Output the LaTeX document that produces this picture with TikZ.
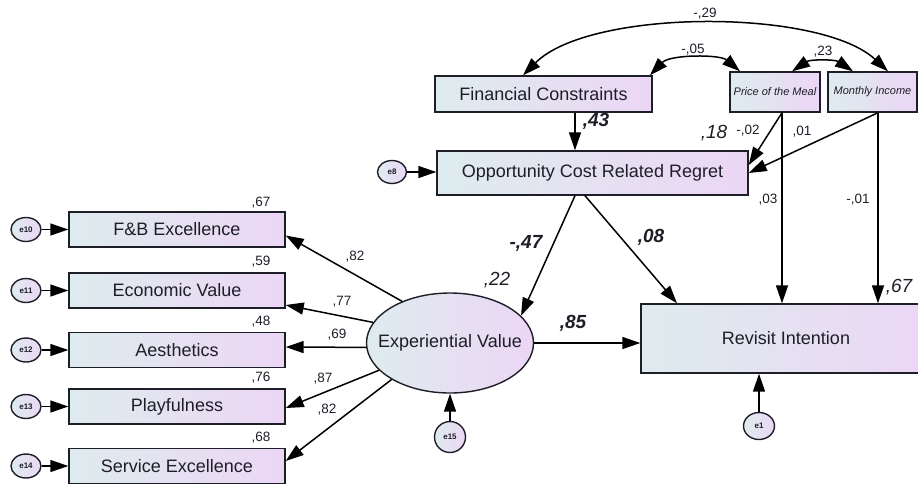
\documentclass[tikz,border=0pt]{standalone}
\usepackage{fontspec}
\setmainfont{Liberation Sans}
\usetikzlibrary{arrows.meta,shapes.geometric}
\definecolor{boxL}{RGB}{222,236,238}
\definecolor{boxR}{RGB}{236,214,245}
\definecolor{ink}{RGB}{30,30,40}
\newcommand{\fsz}[1]{\fontsize{#1}{#1}\selectfont}

\begin{document}
\begin{tikzpicture}[x=1pt,y=1pt,line width=1.5pt,
  obs/.style={rectangle,draw=ink,line width=1.4pt,left color=boxL,right color=boxR,inner sep=0pt,font=\fsz{18},text=ink},
  expbox/.style={obs,font=\fsz{11}\itshape},
  lat/.style={ellipse,draw=ink,line width=1.4pt,left color=boxL,right color=boxR,inner xsep=-13pt,inner ysep=0pt,font=\fsz{18},text=ink},
  err/.style={ellipse,draw=ink,line width=1.4pt,left color=boxL,right color=boxR,inner sep=0pt,font=\fsz{8}\bfseries,text=ink},
  coef/.style={font=\fsz{13.5},text=ink,inner sep=0pt},
  bigc/.style={font=\fsz{19}\bfseries\itshape,text=ink,inner sep=0pt},
  rsq/.style={font=\fsz{19}\itshape,text=ink,inner sep=0pt},
  >={Triangle[length=18pt,width=12pt]}]
\useasboundingbox (0,0) rectangle (918,-483);

% exogenous variables
\node[obs,minimum width=217pt,minimum height=36pt] (fc) at (543.5,-94) {Financial Constraints};
\node[expbox,minimum width=90pt,minimum height=40pt] (pm) at (775,-92) {Price of the Meal};
\node[expbox,minimum width=89pt,minimum height=40pt] (mi) at (872.5,-92) {Monthly Income};

% endogenous variables
\node[obs,minimum width=311pt,minimum height=44pt] (ocr) at (592.5,-173) {Opportunity Cost Related Regret};
\node[obs,minimum width=290pt,minimum height=69pt] (rv) at (786,-338.5) {Revisit Intention};
\node[lat,minimum width=167pt,minimum height=100pt] (ev) at (450,-343) {Experiential Value};

% indicators
\node[obs,minimum width=216pt,minimum height=35pt] (fb) at (177,-229.5) {F\&B Excellence};
\node[obs,minimum width=216pt,minimum height=35pt] (ecv) at (177,-290.5) {Economic Value};
\node[obs,minimum width=216pt,minimum height=35pt] (aes) at (177,-350) {Aesthetics};
\node[obs,minimum width=216pt,minimum height=35pt] (pla) at (177,-406.5) {Playfulness};
\node[obs,minimum width=216pt,minimum height=35pt] (sex) at (177,-466) {Service Excellence};

% error terms
\node[err,minimum width=29pt,minimum height=23pt] (e8) at (392,-172) {e8};
\node[err,minimum width=30pt,minimum height=24pt] (e10) at (26,-229.5) {e10};
\node[err,minimum width=30pt,minimum height=24pt] (e11) at (26,-290.5) {e11};
\node[err,minimum width=30pt,minimum height=24pt] (e12) at (26,-350) {e12};
\node[err,minimum width=30pt,minimum height=24pt] (e13) at (26,-406.5) {e13};
\node[err,minimum width=30pt,minimum height=24pt] (e14) at (26,-466) {e14};
\node[err,minimum width=31pt,minimum height=31pt] (e15) at (450,-437) {e15};
\node[err,minimum width=31pt,minimum height=27pt] (e1) at (759,-426) {e1};

\draw[->] (e8.east) -- (e8.east -| ocr.west);
\draw[->] (e10) -- (fb);
\draw[->] (e11) -- (ecv);
\draw[->] (e12) -- (aes);
\draw[->] (e13) -- (pla);
\draw[->] (e14) -- (sex);
\draw[->] (e15) -- (ev);
\draw[->] (e1.north) -- (e1.north |- rv.south);

% structural paths
\coordinate (fcout) at ([xshift=31.5pt]fc.south);
\coordinate (pmout) at ([xshift=7pt]pm.south);
\coordinate (miout) at ([xshift=5.5pt]mi.south);
\draw[->] (fcout) -- (fcout |- ocr.north);
\draw[->] (pmout) -- ([yshift=8pt]ocr.east);
\draw[->] (miout) -- (ocr.east);
\draw[->] (pmout) -- (pmout |- rv.north);
\draw[->] (miout) -- (miout |- rv.north);
\draw[->] ([xshift=-17.5pt]ocr.south) -- (ev.21);
\draw[->] ([xshift=-7.5pt]ocr.south) -- ([xshift=-109pt]rv.north);
\draw[->] (ev.east) -- (ev.east -| rv.west);

% loadings
\draw[->] (ev.139) -- ([yshift=-6pt]fb.east);
\draw[->] (ev.165) -- ([yshift=-14.5pt]ecv.east);
\draw[->] (ev.183) -- ([yshift=3pt]aes.east);
\draw[->] (ev.201) -- ([yshift=-1.5pt]pla.east);
\draw[->] (ev.212) -- ([yshift=5pt]sex.east);

% covariances
\draw[<->] ([xshift=-20.5pt]fc.north) .. controls +(67,67) and +(-68,63) .. ([xshift=15.5pt]mi.north);
\draw[<->] ([xshift=106.5pt]fc.north) .. controls +(20,21) and +(-20,17) .. ([xshift=-35pt]pm.north);
\draw[<->] ([xshift=17pt]pm.north) .. controls +(18,12) and +(-18,12) .. ([xshift=-19.5pt]mi.north);

% estimates
\node[coef] (c29) at (705,-14) {-,29};
\node[coef] (c05) at (693,-50) {-,05};
\node[coef] (c23) at (823,-52) {,23};
\node[bigc] (c43) at (596,-121) {,43};
\node[rsq] (r18) at (714,-133) {,18};
\node[coef] (c02) at (748,-131) {-,02};
\node[coef] (c01a) at (802,-132) {,01};
\node[coef] (c03) at (768,-200) {,03};
\node[coef] (c01b) at (858,-200) {-,01};
\node[rsq] (r67) at (899,-287) {,67};
\node[bigc] (c47) at (526,-243) {-,47};
\node[bigc] (c08) at (651,-237) {,08};
\node[bigc] (c85) at (573,-323) {,85};
\node[rsq] (r22) at (497,-280) {,22};
\node[coef] (l1) at (355,-257) {,82};
\node[coef] (l2) at (342,-302) {,77};
\node[coef] (l3) at (337,-335) {,69};
\node[coef] (l4) at (323,-379) {,87};
\node[coef] (l5) at (327,-410) {,82};
\node[coef] (r1) at (261,-203) {,67};
\node[coef] (r2) at (261,-262) {,59};
\node[coef] (r3) at (261,-322) {,48};
\node[coef] (r4) at (261,-378) {,76};
\node[coef] (r5) at (261,-438) {,68};
\end{tikzpicture}
\end{document}
